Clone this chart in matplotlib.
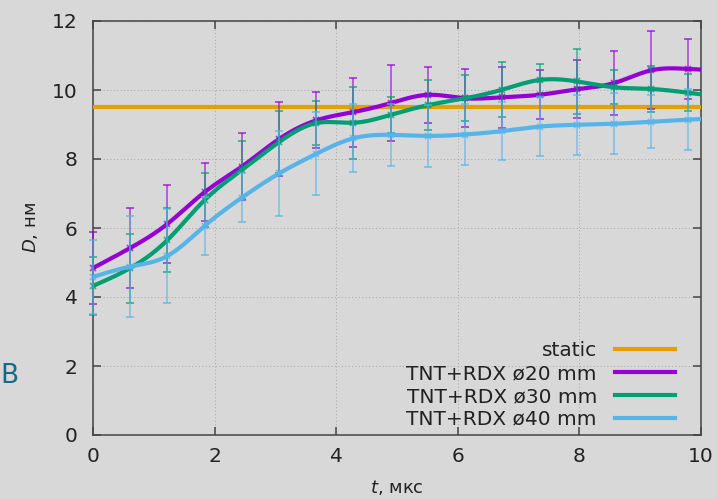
import numpy as np
import matplotlib
matplotlib.use("Agg")
import matplotlib.pyplot as plt

# ---- data ----
t = [0.0, 0.612, 1.224, 1.836, 2.448, 3.06, 3.672, 4.284, 4.896, 5.508,
     6.12, 6.732, 7.344, 7.956, 8.568, 9.18, 9.792]

d20 = [4.84, 5.42, 6.12, 7.04, 7.78, 8.58, 9.12, 9.36, 9.62, 9.86,
       9.76, 9.79, 9.86, 10.02, 10.20, 10.57, 10.61]
e20 = [1.05, 1.16, 1.14, 0.84, 0.98, 1.07, 0.81, 1.00, 1.10, 0.82,
       0.84, 0.89, 0.71, 0.84, 0.93, 1.13, 0.88]

d30 = [4.32, 4.84, 5.65, 6.81, 7.68, 8.49, 9.04, 9.05, 9.28, 9.56,
       9.76, 10.01, 10.29, 10.25, 10.08, 10.03, 9.92]
e30 = [0.85, 1.00, 0.92, 0.79, 0.84, 0.90, 0.63, 1.05, 0.52, 0.73,
       0.67, 0.79, 0.46, 0.94, 0.50, 0.66, 0.53]

d40 = [4.58, 4.88, 5.19, 6.06, 6.88, 7.58, 8.15, 8.60, 8.70, 8.67,
       8.71, 8.81, 8.94, 8.99, 9.02, 9.08, 9.14]
e40 = [1.07, 1.46, 1.36, 0.84, 0.70, 1.22, 1.20, 0.98, 0.89, 0.89,
       0.87, 0.84, 0.85, 0.87, 0.88, 0.77, 0.88]

static_value = 9.5

labels = ["static", "TNT+RDX ø20 mm", "TNT+RDX ø30 mm", "TNT+RDX ø40 mm"]
colors = ["#E69F00", "#9400D3", "#009E73", "#56B4E9"]

xticks = [0, 2, 4, 6, 8, 10]
yticks = [0, 2, 4, 6, 8, 10, 12]


def natural_spline(x, y, xs):
    """Natural cubic spline through (x, y), evaluated at xs (end segments extended)."""
    x = np.asarray(x, float)
    y = np.asarray(y, float)
    n = len(x)
    h = np.diff(x)
    A = np.zeros((n, n))
    b = np.zeros(n)
    A[0, 0] = 1.0
    A[-1, -1] = 1.0
    for i in range(1, n - 1):
        A[i, i - 1] = h[i - 1]
        A[i, i] = 2 * (h[i - 1] + h[i])
        A[i, i + 1] = h[i]
        b[i] = 3 * ((y[i + 1] - y[i]) / h[i] - (y[i] - y[i - 1]) / h[i - 1])
    c = np.linalg.solve(A, b)
    bb = (y[1:] - y[:-1]) / h - h * (2 * c[:-1] + c[1:]) / 3
    dd = (c[1:] - c[:-1]) / (3 * h)
    idx = np.clip(np.searchsorted(x, xs) - 1, 0, n - 2)
    dx = xs - x[idx]
    return y[idx] + bb[idx] * dx + c[idx] * dx ** 2 + dd[idx] * dx ** 3


plt.rcParams['font.family'] = ['DejaVu Sans']
bg = "#d8d8d8"
fig = plt.figure(figsize=(7.17, 4.99), dpi=100, facecolor=bg)
ax = fig.add_axes([93 / 717, 64 / 499, 608 / 717, 414 / 499])
ax.set_facecolor("none")

ax.set_xlim(0, 10)
ax.set_ylim(0, 12)
ax.set_xticks(xticks)
ax.set_yticks(yticks)
ax.tick_params(direction="in", length=6, width=1.1, color="#444444",
               top=True, right=True, labelsize=14.5, labelcolor="#222222")
ax.tick_params(axis="y", pad=11)
ax.tick_params(axis="x", pad=9)
for s in ax.spines.values():
    s.set_color("#444444")
    s.set_linewidth(1.1)
ax.grid(True, linestyle=(0, (1, 2.5)), color="#a5a5a5", linewidth=0.7)
ax.set_axisbelow(True)

# static line
ax.plot([0, 10], [static_value, static_value], color=colors[0], lw=3, label=labels[0], zorder=3)

xs = np.linspace(0, 10, 600)
for d, e, col, lab, z in [(d20, e20, colors[1], labels[1], 4),
                          (d30, e30, colors[2], labels[2], 5),
                          (d40, e40, colors[3], labels[3], 6)]:
    ax.errorbar(t, d, yerr=e, fmt="x", color=col, ms=5, mew=1.3, elinewidth=1.1,
                capsize=3, capthick=1.1, alpha=0.7, zorder=z, clip_on=False)
    ax.plot(xs, natural_spline(t, d, xs), color=col, lw=3, label=lab, zorder=z)

leg = ax.legend(loc="lower right", bbox_to_anchor=(0.958, 0.015), frameon=False,
                markerfirst=False, fontsize=14.5, handlelength=3.0, labelspacing=0.19,
                borderpad=0, borderaxespad=0, handletextpad=0.9)
for txt in leg.get_texts():
    txt.set_color("#222222")

ax.set_xlabel("$t$, мкс", fontsize=13, color="#222222")
ax.set_ylabel("$D$, нм", fontsize=13, color="#222222")
ax.xaxis.set_label_coords(0.5, -0.104)
ax.yaxis.set_label_coords(-0.087, 0.5)

fig.text(0.0, (499 - 376) / 499, "В", fontsize=19, color="#176a87",
         ha="left", va="center")

fig.savefig("out.png", dpi=100, facecolor=bg)
